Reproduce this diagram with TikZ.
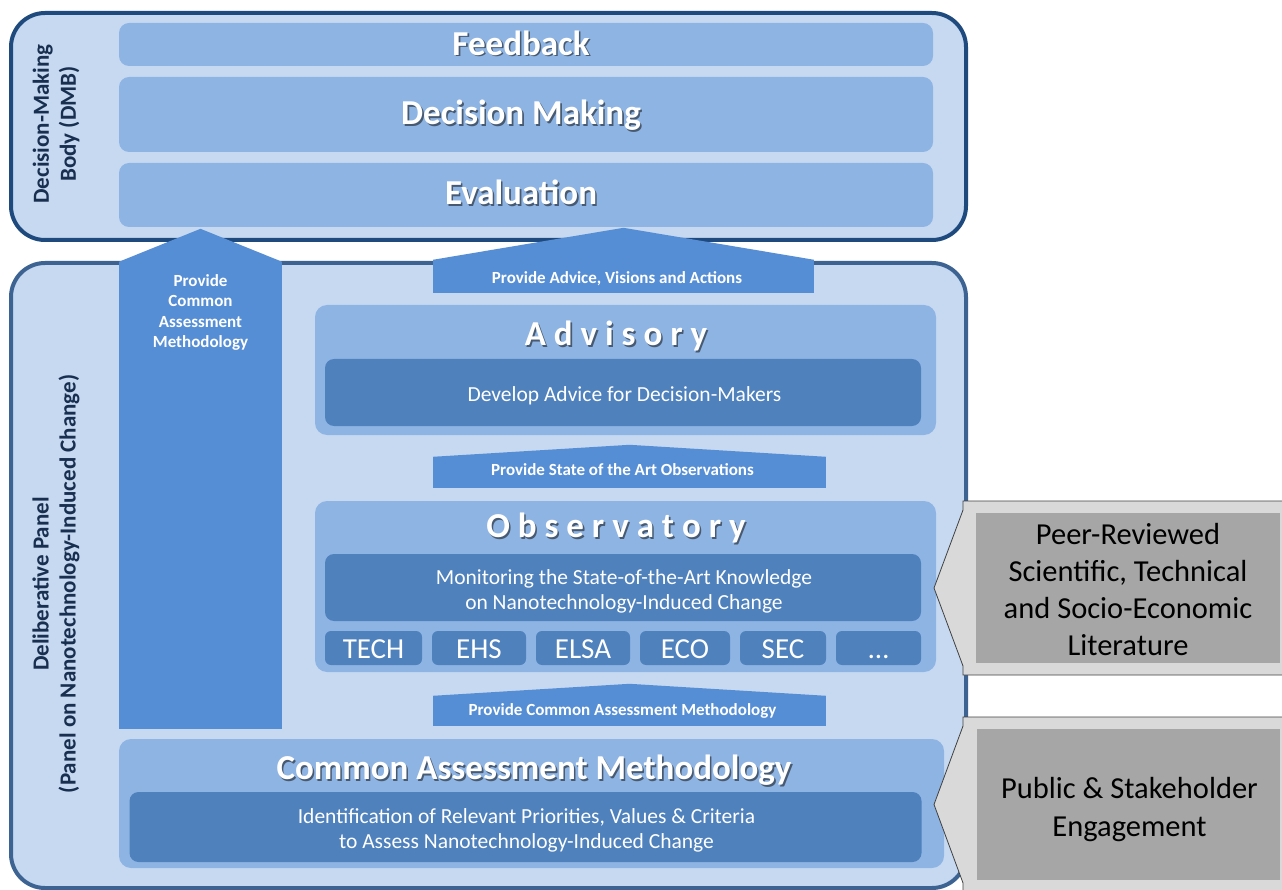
\documentclass[tikz,border=0pt]{standalone}
\usepackage{fontspec}
\setmainfont{Carlito}
\usetikzlibrary{calc}

\definecolor{panelfill}{HTML}{C6D9F1}
\definecolor{dmbline}{HTML}{1F4A7E}
\definecolor{dpline}{HTML}{3D6392}
\definecolor{barfill}{HTML}{8EB4E3}
\definecolor{innerfill}{HTML}{4F81BD}
\definecolor{arrowfill}{HTML}{558ED5}
\definecolor{labeltext}{HTML}{182F50}
\definecolor{greyout}{HTML}{D9D9D9}
\definecolor{greyin}{HTML}{A6A6A6}
\definecolor{greyline}{HTML}{404040}
\colorlet{shadowc}{barfill!50!black}

\newcommand{\shadowed}[1]{\makebox[0pt][l]{\kern1.6pt\raisebox{-1.6pt}{\textcolor{shadowc}{#1}}}#1}

\tikzset{
  wh/.style 2 args={minimum width=#1pt, minimum height=#2pt},
  panel/.style={draw, line width=4pt, fill=panelfill, rounded corners=34pt, inner sep=0pt},
  bar/.style={fill=barfill, rounded corners=10pt, inner sep=0pt},
  bartext/.style={text=white, inner sep=0pt, font=\fontsize{35}{42}\selectfont\bfseries},
  innerbox/.style={fill=innerfill, rounded corners=9pt, inner sep=0pt},
  innertext/.style={inner sep=0pt, text=white, align=center, font=\fontsize{21.5}{25}\selectfont},
  tagbox/.style={fill=innerfill, rounded corners=6pt, inner sep=0pt, text=white, minimum height=34pt, text height=20pt, text depth=0pt, font=\fontsize{29}{34}\selectfont},
  arrowbody/.style={fill=arrowfill, inner sep=0pt},
  arrowtext/.style={inner sep=0pt, text=white, align=center, font=\fontsize{17}{20.6}\selectfont\bfseries},
  sidelabel/.style={rotate=90, align=center, text=labeltext, font=\fontsize{23}{27}\selectfont\bfseries},
  greyshape/.style={fill=greyout, draw=greyline, line width=0.8pt},
  greybox/.style={fill=greyin, inner sep=0pt},
  greytext/.style={inner sep=0pt, align=center, font=\fontsize{30.5}{37.3}\selectfont},
}

\begin{document}
\begin{tikzpicture}[x=1pt, y=-1pt]
  \useasboundingbox (0,0) rectangle (1282,890);

  % decision-making body
  \node[panel, draw=dmbline, wh={955}{227}] (dmb) at (488.5,126.5) {};
  \node[sidelabel] (dmbLabel) at (56,124) {Decision-Making\\Body (DMB)};
  \node[bar, wh={814}{43}] (feedback) at (526,44.5) {};
  \node[bartext] (feedbackText) at (521,44) {\shadowed{Feedback}};
  \node[bar, wh={814}{75}] (decision) at (526,114.5) {};
  \node[bartext] (decisionText) at (521,116) {\shadowed{Decision Making}};
  \node[bar, wh={814}{64}] (evaluation) at (526,195) {};
  \node[bartext] (evaluationText) at (521,193.5) {\shadowed{Evaluation}};

  % deliberative panel
  \node[panel, draw=dpline, wh={955}{625}] (dp) at (488.5,575.5) {};
  \node[sidelabel] (dpLabel) at (56,584) {Deliberative Panel\\(Panel on Nanotechnology-Induced Change)};

  % advisory
  \node[bar, rounded corners=12pt, wh={621}{130}] (adv) at (625.5,370) {};
  \node[bartext] (advTitle) at (616,337) {\shadowed{A d v i s o r y}};
  \node[innerbox, wh={596}{67}] (advInner) at (623,392.5) {};
  \node[innertext] (advText) at (624.5,395.5) {Develop Advice for Decision-Makers};

  % observatory
  \node[bar, rounded corners=12pt, wh={621}{171}] (obs) at (625.5,586.5) {};
  \node[bartext] (obsTitle) at (616,529) {\shadowed{O b s e r v a t o r y}};
  \node[innerbox, wh={596}{67}] (obsInner) at (623,587.5) {};
  \node[innertext] (obsText) at (624,591.5) {Monitoring the State-of-the-Art Knowledge\\on Nanotechnology-Induced Change};
  \node[tagbox, minimum width=97pt] (tech) at (373.5,648) {TECH};
  \node[tagbox, minimum width=94pt] (ehs) at (479,648) {EHS};
  \node[tagbox, minimum width=94pt] (elsa) at (583,648) {ELSA};
  \node[tagbox, minimum width=90pt] (eco) at (685,648) {ECO};
  \node[tagbox, minimum width=86pt] (sec) at (783,648) {SEC};
  \node[tagbox, minimum width=85pt] (more) at (878.5,648) {\ldots};

  % common assessment methodology
  \node[bar, rounded corners=12pt, wh={825}{129}] (cam) at (531.5,803.5) {};
  \node[bartext] (camTitle) at (534,771) {\shadowed{Common Assessment Methodology}};
  \node[innerbox, wh={792}{70}] (camInner) at (525.5,827) {};
  \node[innertext] (camText) at (526.5,830) {Identification of Relevant Priorities, Values \& Criteria\\to Assess Nanotechnology-Induced Change};

  % block arrows
  \node[arrowbody, wh={163}{467}] (cmaArrow) at (200.5,495.5) {};
  \fill[arrowfill] (cmaArrow.north west) -- ($(cmaArrow.north)+(0,-33)$) -- (cmaArrow.north east) -- cycle;
  \node[arrowtext, anchor=north] (cmaArrowText) at (200.5,274) {Provide\\Common\\Assessment\\Methodology};

  \node[arrowbody, wh={381}{33}] (advArrow) at (623.5,276.5) {};
  \fill[arrowfill] (advArrow.north west) -- ($(advArrow.north)+(0,-32)$) -- (advArrow.north east) -- cycle;
  \node[arrowtext] (advArrowText) at (617,278.5) {Provide Advice, Visions and Actions};

  \node[arrowbody, wh={393}{31}] (obsArrow) at (629.5,472.5) {};
  \fill[arrowfill] (obsArrow.north west) -- ($(obsArrow.north)+(0,-12)$) -- (obsArrow.north east) -- cycle;
  \node[arrowtext] (obsArrowText) at (622.5,469.5) {Provide State of the Art Observations};

  \node[arrowbody, wh={393}{30}] (camArrow) at (629.5,711) {};
  \fill[arrowfill] (camArrow.north west) -- ($(camArrow.north)+(0,-12)$) -- (camArrow.north east) -- cycle;
  \node[arrowtext] (camArrowText) at (622.5,711) {Provide Common Assessment Methodology};

  % inputs from outside
  \filldraw[greyshape] (963,501) -- (1292,501) -- (1292,675) -- (963,675) -- (963,666) -- (934,588) -- (963,510) -- cycle;
  \node[greybox, wh={304}{150}] (lit) at (1128,588) {};
  \node[greytext] (litText) at (1128,589.5) {Peer-Reviewed\\Scientific, Technical\\and Socio-Economic\\Literature};

  \filldraw[greyshape] (963,717) -- (1292,717) -- (1292,892) -- (963,892) -- (963,883) -- (934,804.5) -- (963,726) -- cycle;
  \node[greybox, wh={303}{151}] (pub) at (1128.5,804.5) {};
  \node[greytext] (pubText) at (1129.5,809.5) {Public \& Stakeholder\\Engagement};
\end{tikzpicture}
\end{document}
